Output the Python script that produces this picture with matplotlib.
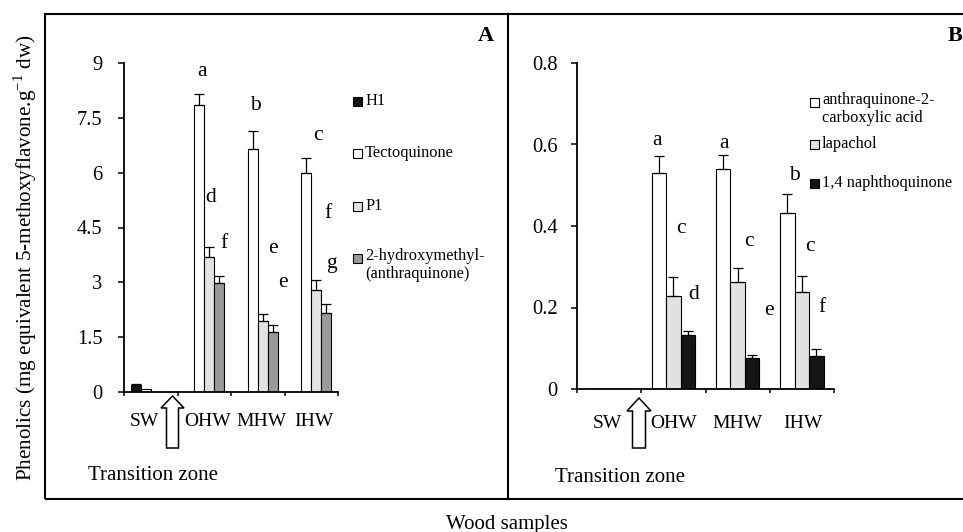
import numpy as np
import matplotlib
matplotlib.use('Agg')
import matplotlib.pyplot as plt
from matplotlib.patches import Rectangle, Polygon
from matplotlib.lines import Line2D
import matplotlib.transforms as mtransforms

plt.rcParams['font.family'] = ['Liberation Serif', 'DejaVu Serif']

W, H = 963, 532

samples = ['SW', 'OHW', 'MHW', 'IHW']

# Panel A
a_names = ['H1', 'Tectoquinone', 'P1', '2-hydroxymethyl-\n(anthraquinone)']
a_h1 = [0.20, 0, 0, 0]
a_tecto = [0.07, 7.86, 6.66, 6.00]
a_p1 = [0, 3.69, 1.93, 2.78]
a_hma = [0, 2.97, 1.64, 2.17]
a_h1_err = [0.03, 0, 0, 0]
a_tecto_err = [0, 0.30, 0.47, 0.39]
a_p1_err = [0, 0.27, 0.20, 0.28]
a_hma_err = [0, 0.20, 0.19, 0.24]
a_letters = ['a', 'b', 'c', 'd', 'f', 'e', 'e', 'f', 'g']
a_let_x = [1.46, 2.46, 3.63, 1.62, 1.87, 2.78, 2.97, 3.81, 3.87]
a_let_y = [8.77, 7.84, 7.02, 5.33, 4.05, 3.92, 2.99, 4.87, 3.52]
a_yticks = [0, 1.5, 3, 4.5, 6, 7.5, 9]
a_yticklabels = ['0', '1.5', '3', '4.5', '6', '7.5', '9']

# Panel B
b_names = ['anthraquinone-2-\ncarboxylic acid', 'lapachol', '1,4 naphthoquinone']
b_acid = [0, 0.530, 0.541, 0.432]
b_lap = [0, 0.229, 0.263, 0.238]
b_naph = [0, 0.133, 0.077, 0.082]
b_acid_err = [0, 0.041, 0.034, 0.046]
b_lap_err = [0, 0.046, 0.034, 0.040]
b_naph_err = [0, 0.010, 0.006, 0.015]
b_letters = ['a', 'a', 'b', 'c', 'c', 'c', 'd', 'e', 'f']
b_let_x = [1.24, 2.29, 3.38, 1.62, 2.67, 3.63, 1.81, 2.98, 3.82]
b_let_y = [0.609, 0.603, 0.524, 0.395, 0.362, 0.349, 0.232, 0.193, 0.201]
b_yticks = [0, 0.2, 0.4, 0.6, 0.8]
b_yticklabels = ['0', '0.2', '0.4', '0.6', '0.8']


def fx(x):
    return x / W


def fy(y):
    return 1 - y / H


fig = plt.figure(figsize=(W / 100, H / 100), dpi=100)

axA = fig.add_axes([fx(124), fy(392), (338 - 124) / W, (392 - 63) / H])
axB = fig.add_axes([fx(577), fy(389), (834 - 577) / W, (389 - 63) / H])

centers = np.arange(len(samples)) + 0.5


def draw_bars(ax, series, errs, colors, width):
    n = len(series)
    for i, (vals, err, col) in enumerate(zip(series, errs, colors)):
        xs = centers + (i - (n - 1) / 2) * width
        ax.bar(xs, vals, width, color=col, edgecolor='black', linewidth=0.8, zorder=2)
        err = np.array(err)
        m = err > 0
        if m.any():
            ax.errorbar(xs[m], np.array(vals)[m], yerr=[np.zeros(m.sum()), err[m]],
                        fmt='none', ecolor='black', elinewidth=0.9, capsize=3.5,
                        capthick=0.9, zorder=3)


a_colors = ['#151515', 'white', '#e2e2e2', '#9a9a9a']
b_colors = ['white', '#e2e2e2', '#151515']

draw_bars(axA, [a_h1, a_tecto, a_p1, a_hma],
          [a_h1_err, a_tecto_err, a_p1_err, a_hma_err], a_colors, 0.187)
draw_bars(axB, [b_acid, b_lap, b_naph],
          [b_acid_err, b_lap_err, b_naph_err], b_colors, 0.225)

for ax, yt, ytl, top, pad in [(axA, a_yticks, a_yticklabels, 9, 11),
                              (axB, b_yticks, b_yticklabels, 0.8, 9.5)]:
    ax.set_xlim(0, 4)
    ax.set_ylim(0, top)
    ax.set_xticks(range(5))
    ax.set_xticklabels([])
    ax.set_yticks(yt)
    ax.set_yticklabels(ytl, fontsize=14.8)
    ax.spines['top'].set_visible(False)
    ax.spines['right'].set_visible(False)
    ax.spines['left'].set_linewidth(1.3)
    ax.spines['bottom'].set_linewidth(1.3)
    ax.tick_params(axis='x', direction='out', length=3, width=1.1)
    ax.tick_params(axis='y', direction='out', length=4.5, width=1.1, pad=pad)
    ax.patch.set_visible(False)

# letters
for t, x, y in zip(a_letters, a_let_x, a_let_y):
    axA.text(x, y, t, ha='center', va='center', fontsize=15.5)
for t, x, y in zip(b_letters, b_let_x, b_let_y):
    axB.text(x, y, t, ha='center', va='center', fontsize=15.5)

# category labels
a_dx = [-0.11, 0.07, 0.06, 0.05]
b_dx = [-0.03, 0.0, 0.0, 0.02]
transA = mtransforms.blended_transform_factory(axA.transData, axA.transAxes)
transB = mtransforms.blended_transform_factory(axB.transData, axB.transAxes)
for s, c, d in zip(samples, centers, a_dx):
    axA.text(c + d, -30 / 329, s, transform=transA, ha='center', va='center', fontsize=14)
for s, c, d in zip(samples, centers, b_dx):
    axB.text(c + d, -34 / 326, s, transform=transB, ha='center', va='center', fontsize=14)


# legends
def legend_entry(xs, xt, y, name, col):
    fig.add_artist(Rectangle((fx(xs), fy(y + 4.5)), 9 / W, 9 / H, facecolor=col,
                             edgecolor='black', linewidth=0.8, transform=fig.transFigure))
    if '\n' in name:
        fig.text(fx(xt), fy(y - 9.5), name, fontsize=11.8, ha='left', va='top', linespacing=1.1)
    else:
        fig.text(fx(xt), fy(y), name, fontsize=11.8, ha='left', va='center')


for name, col, y in zip(a_names, a_colors, [101, 153, 206, 258]):
    legend_entry(353, 365, y, name, col)
for name, col, y in zip(b_names, b_colors, [102, 144, 183]):
    legend_entry(810, 822, y, name, col)


# arrows marking the transition zone
def arrow(xc, tip, shoulder, bottom, hw, sw):
    pts = [(xc, tip), (xc + hw, shoulder), (xc + sw, shoulder), (xc + sw, bottom),
           (xc - sw, bottom), (xc - sw, shoulder), (xc - hw, shoulder)]
    fig.add_artist(Polygon([(fx(x), fy(y)) for x, y in pts], closed=True,
                           facecolor='white', edgecolor='black', linewidth=1.1,
                           transform=fig.transFigure))


arrow(172.5, 396, 408, 448, 11.5, 6)
arrow(639, 398, 411, 448, 12, 6.5)

fig.text(fx(88), fy(476), 'Transition zone', fontsize=15, ha='left', va='center')
fig.text(fx(555), fy(477), 'Transition zone', fontsize=15, ha='left', va='center')

# outer frame and divider
fig.add_artist(Rectangle((fx(45), fy(499)), 1, (499 - 14) / H, fill=False,
                         edgecolor='black', linewidth=1.5, transform=fig.transFigure))
fig.add_artist(Line2D([fx(507.5), fx(507.5)], [fy(14), fy(499)], color='black',
                      linewidth=1.5, transform=fig.transFigure))

fig.text(fx(486), fy(36), 'A', fontsize=16, fontweight='bold', ha='center', va='center')
fig.text(fx(948), fy(36), 'B', fontsize=16, fontweight='bold', ha='left', va='center')

fig.text(fx(25), fy(258), 'Phenolics (mg equivalent 5-methoxyflavone.g$^{\\mathregular{-1}}$ dw)',
         rotation=90, fontsize=15.2, ha='center', va='center')
fig.text(fx(507), fy(524), 'Wood samples', fontsize=15, ha='center', va='center')

fig.savefig('out.png', dpi=100)
